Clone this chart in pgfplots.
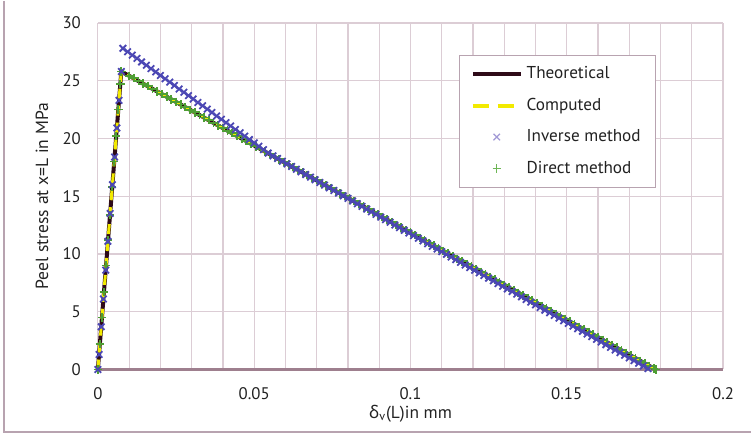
\documentclass[border=0pt]{standalone}
\usepackage{fontspec}
\setmainfont{PT Sans}
\newfontfamily\greekfont{Noto Sans}
\usepackage{pgfplots}
\pgfplotsset{compat=1.18}
\usetikzlibrary{calc}
\definecolor{gridc}{HTML}{DCCDD5}
\definecolor{zeroc}{HTML}{9E7F8E}
\definecolor{borderc}{HTML}{B8A3B0}
\definecolor{theoc}{HTML}{2E0A18}
\definecolor{compc}{HTML}{F2EA00}
\definecolor{invc}{HTML}{4B47B4}
\definecolor{invl}{HTML}{A29AD6}
\definecolor{dirc}{HTML}{4E9E34}
\definecolor{dirl}{HTML}{6DB655}
\definecolor{txt}{HTML}{222222}
\begin{document}
\begin{tikzpicture}
\begin{axis}[name=ax, scale only axis, width=313pt, height=173.5pt,
  font=\fontsize{8.4}{10}\selectfont, text=txt,
  xmin=0, xmax=0.2, ymin=0, ymax=30,
  xtick={0,0.05,0.1,0.15,0.2}, xticklabels={0,0.05,0.1,0.15,0.2},
  minor xtick={0.01,0.02,0.03,0.04,0.06,0.07,0.08,0.09,0.11,0.12,0.13,0.14,0.16,0.17,0.18,0.19},
  ytick={0,5,10,15,20,25,30}, yticklabels={0,5,10,15,20,25,30},
  grid=both, grid style={gridc, line width=0.6pt}, minor grid style={gridc, line width=0.6pt},
  major tick length=0pt, minor tick length=0pt,
  axis x line*=bottom, axis y line*=left,
  x axis line style={draw=zeroc, line width=1.5pt, -},
  y axis line style={draw=none, -},
  yticklabel style={xshift=-5pt},
  xticklabel style={yshift=-5.5pt},
  xlabel={{\greekfont δ}\textsubscript{v}(L)in mm},
  ylabel={Peel stress at x=L in MPa},
  xlabel style={at={(axis description cs:0.5,0)}, anchor=center, yshift=-22pt, font=\fontsize{8.7}{10}\selectfont},
  ylabel style={at={(axis description cs:0,0.5)}, anchor=center, rotate=0, yshift=28pt, font=\fontsize{8.8}{10}\selectfont},
  clip=false,
  legend style={at={(axis description cs:0.578,0.908)}, anchor=north west,
    draw=borderc, line width=0.6pt, fill=white, font=\fontsize{8.6}{10}\selectfont,
    inner xsep=5.5pt, inner ysep=3.5pt, row sep=4.2pt, cells={anchor=west}},
  legend image code/.code={\draw[mark repeat=2, mark phase=2, #1] plot coordinates {(0pt,0pt) (12pt,0pt) (24pt,0pt)};},
]
\addplot[theoc, line width=2pt, forget plot] coordinates {(0,0) (0.0075,25.8) (0.1785,0)};
\addplot[compc, line width=1.5pt, dash pattern=on 5pt off 3.5pt, forget plot] coordinates {(0,0) (0.0075,25.8) (0.1785,0)};
\addplot[only marks, mark=+, mark size=2.1pt, dirc, mark options={line width=0.9pt}, forget plot] coordinates {
(0,0) (0.00064,2.2) (0.00131,4.5) (0.00195,6.7) (0.00262,9.0) (0.00326,11.2) (0.0039,13.4) (0.0046,15.8) (0.00524,18.0) (0.00588,20.2) (0.00655,22.5) (0.00719,24.7) (0.0075,25.8)
(0.0100,25.43) (0.0115,25.21) (0.0130,24.98) (0.0145,24.75) (0.0160,24.53) (0.0175,24.30) (0.0190,24.07) (0.0205,23.85) (0.0220,23.62) (0.0235,23.39)
(0.0250,23.17) (0.0265,22.94) (0.0280,22.71) (0.0295,22.49) (0.0310,22.26) (0.0325,22.04) (0.0340,21.81) (0.0355,21.58) (0.0370,21.36) (0.0385,21.13)
(0.0400,20.90) (0.0415,20.68) (0.0430,20.45) (0.0445,20.23) (0.0460,20.00) (0.0475,19.77) (0.0490,19.55) (0.0505,19.32) (0.0520,19.09) (0.0535,18.87)
(0.0550,18.64) (0.0565,18.41) (0.0580,18.19) (0.0595,17.96) (0.0610,17.73) (0.0625,17.51) (0.0640,17.28) (0.0655,17.06) (0.0670,16.83) (0.0685,16.60)
(0.0700,16.38) (0.0715,16.15) (0.0730,15.92) (0.0745,15.70) (0.0760,15.47) (0.0775,15.25) (0.0790,15.02) (0.0805,14.79) (0.0820,14.57) (0.0835,14.34)
(0.0850,14.11) (0.0865,13.89) (0.0880,13.66) (0.0895,13.43) (0.0910,13.21) (0.0925,12.98) (0.0940,12.76) (0.0955,12.53) (0.0970,12.30) (0.0985,12.08)
(0.1000,11.85) (0.1015,11.62) (0.1030,11.40) (0.1045,11.17) (0.1060,10.94) (0.1075,10.72) (0.1090,10.49) (0.1105,10.27) (0.1120,10.04) (0.1135,9.81)
(0.1150,9.59) (0.1165,9.36) (0.1180,9.13) (0.1195,8.91) (0.1210,8.68) (0.1225,8.45) (0.1240,8.23) (0.1255,8.00) (0.1270,7.78) (0.1285,7.55)
(0.1300,7.32) (0.1315,7.10) (0.1330,6.87) (0.1345,6.64) (0.1360,6.42) (0.1375,6.19) (0.1390,5.97) (0.1405,5.74) (0.1420,5.51) (0.1435,5.29)
(0.1450,5.06) (0.1465,4.83) (0.1480,4.61) (0.1495,4.38) (0.1510,4.15) (0.1525,3.93) (0.1540,3.70) (0.1555,3.48) (0.1570,3.25) (0.1585,3.02)
(0.1600,2.80) (0.1615,2.57) (0.1630,2.34) (0.1645,2.12) (0.1660,1.89) (0.1675,1.66) (0.1690,1.44) (0.1705,1.21) (0.1720,0.99) (0.1735,0.76)
(0.1750,0.53) (0.1765,0.31) (0.1780,0.08) (0.1785,0)
};
\addplot[only marks, mark=x, mark size=2.3pt, invc, mark options={line width=0.9pt}, forget plot] coordinates {
(0,0) (0.00038,1.3) (0.00108,3.7) (0.00177,6.1) (0.0025,8.6) (0.00323,11.1) (0.00393,13.5) (0.00465,16.0) (0.00535,18.4) (0.00608,20.9) (0.00678,23.3) (0.0075,25.8)
(0.0080,27.80) (0.0095,27.51) (0.0110,27.22) (0.0125,26.93) (0.0140,26.63) (0.0155,26.34) (0.0170,26.05) (0.0185,25.76) (0.0200,25.46) (0.0215,25.17)
(0.0230,24.88) (0.0245,24.59) (0.0260,24.29) (0.0275,24.00) (0.0290,23.71) (0.0305,23.42) (0.0320,23.12) (0.0335,22.83) (0.0350,22.54) (0.0365,22.25)
(0.0380,21.95) (0.0395,21.66) (0.0410,21.37) (0.0425,21.08) (0.0440,20.78) (0.0455,20.49) (0.0470,20.20) (0.0485,19.91) (0.0500,19.62) (0.0515,19.32)
(0.0530,19.03) (0.0545,18.74)
(0.0560,18.49) (0.0575,18.26) (0.0590,18.03) (0.0605,17.80) (0.0620,17.57) (0.0635,17.34) (0.0650,17.11) (0.0665,16.88) (0.0680,16.65) (0.0695,16.42)
(0.0710,16.19) (0.0725,15.96) (0.0740,15.73) (0.0755,15.50) (0.0770,15.27) (0.0785,15.04) (0.0800,14.81) (0.0815,14.58) (0.0830,14.35) (0.0845,14.12)
(0.0860,13.89) (0.0875,13.66) (0.0890,13.43) (0.0905,13.20) (0.0920,12.97) (0.0935,12.74) (0.0950,12.51) (0.0965,12.28) (0.0980,12.05) (0.0995,11.82)
(0.1010,11.59) (0.1025,11.36) (0.1040,11.13) (0.1055,10.89) (0.1070,10.66) (0.1085,10.43) (0.1100,10.20) (0.1115,9.97) (0.1130,9.74) (0.1145,9.51)
(0.1160,9.28) (0.1175,9.05) (0.1190,8.82) (0.1205,8.59) (0.1220,8.37) (0.1235,8.14) (0.1250,7.91) (0.1265,7.68) (0.1280,7.44) (0.1295,7.21)
(0.1310,6.98) (0.1325,6.75) (0.1340,6.52) (0.1355,6.29) (0.1370,6.06) (0.1385,5.83) (0.1400,5.60) (0.1415,5.37) (0.1430,5.14) (0.1445,4.91)
(0.1460,4.68) (0.1475,4.45) (0.1490,4.22) (0.1505,3.99) (0.1520,3.76) (0.1535,3.53) (0.1550,3.30) (0.1565,3.07) (0.1580,2.84) (0.1595,2.61)
(0.1610,2.38) (0.1625,2.15) (0.1640,1.92) (0.1655,1.69) (0.1670,1.46) (0.1685,1.23) (0.1700,1.00) (0.1715,0.77) (0.1730,0.54) (0.1745,0.31)
(0.1760,0.08)
};
\addlegendimage{theoc, line width=2pt}
\addlegendentry{Theoretical}
\addlegendimage{compc, line width=2pt, dash pattern=on 8pt off 4.5pt}
\addlegendentry{Computed}
\addlegendimage{only marks, mark=x, mark size=2.3pt, invl, mark options={line width=0.6pt}}
\addlegendentry{Inverse method}
\addlegendimage{only marks, mark=+, mark size=2.1pt, dirl, mark options={line width=0.6pt}}
\addlegendentry{Direct method}
\end{axis}
\draw[borderc, line width=1pt] ($(ax.north west)+(-47pt,11pt)$) |- ($(ax.south east)+(14pt,-31.5pt)$);
\path[use as bounding box] ($(ax.south west)+(-49pt,-32.5pt)$) rectangle ($(ax.north east)+(14pt,11pt)$);
\end{tikzpicture}
\end{document}
